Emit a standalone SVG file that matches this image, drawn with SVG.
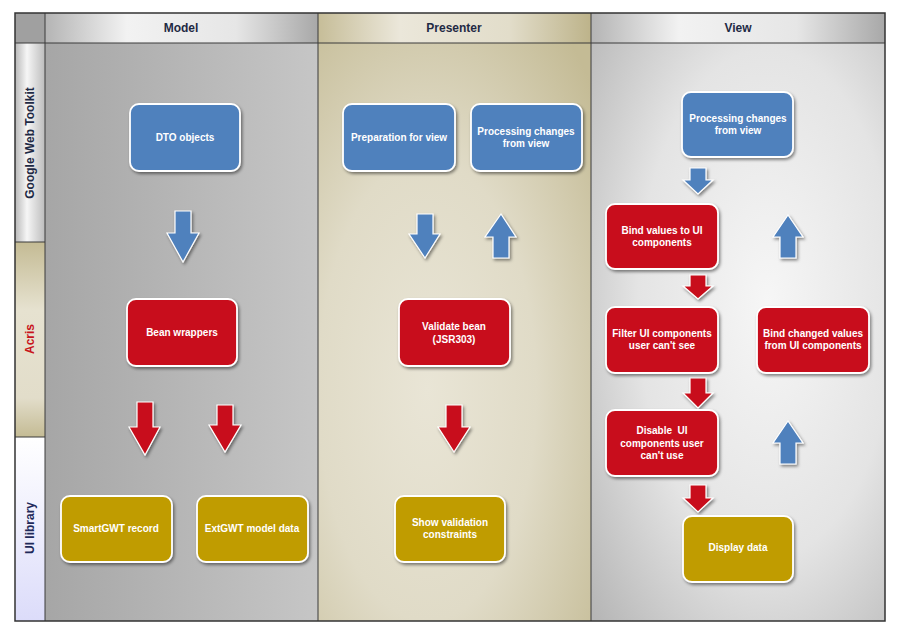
<svg xmlns="http://www.w3.org/2000/svg" width="900" height="636" viewBox="0 0 900 636">
<defs>
<style>
.hdr{font-family:"Liberation Sans",Arial,sans-serif;font-weight:bold;font-size:12px;fill:#1f2a44;text-anchor:middle}
.lbl{font-family:"Liberation Sans",Arial,sans-serif;font-weight:bold;font-size:12px;text-anchor:middle}
.nt{font-family:"Liberation Sans",Arial,sans-serif;font-weight:bold;font-size:10px;fill:#ffffff;text-anchor:middle}
.box{stroke:#ffffff;stroke-width:1.8;filter:url(#sh)}
.blue{fill:#4f81bd}
.red{fill:#c8101a}
.gold{fill:#c09c00}
.arr{stroke:#ffffff;stroke-width:1.2;filter:url(#sh)}
.grid{fill:none;stroke:#3a3a3a;stroke-width:1}
</style>
<filter id="sh" x="-20%" y="-20%" width="150%" height="150%">
<feDropShadow dx="1.5" dy="2" stdDeviation="1.4" flood-color="#000" flood-opacity="0.45"/>
</filter>
<linearGradient id="gModel" x1="0" y1="0" x2="1" y2="0">
<stop offset="0" stop-color="#a6a6a6"/><stop offset="1" stop-color="#c6c6c6"/>
</linearGradient>
<radialGradient id="gPres" cx="0.4" cy="0.6" r="0.8">
<stop offset="0" stop-color="#e9e5d6"/><stop offset="0.5" stop-color="#e0dbc7"/><stop offset="1" stop-color="#c4bb95"/>
</radialGradient>
<radialGradient id="gView" cx="0.6" cy="0.45" r="0.8">
<stop offset="0" stop-color="#f6f6f6"/><stop offset="0.55" stop-color="#e4e4e4"/><stop offset="1" stop-color="#b6b6b6"/>
</radialGradient>
<linearGradient id="hGray" x1="0" y1="0" x2="1" y2="0">
<stop offset="0" stop-color="#b4b4b4"/><stop offset="0.3" stop-color="#f2f2f2"/><stop offset="0.7" stop-color="#e6e6e6"/><stop offset="1" stop-color="#a8a8a8"/>
</linearGradient>
<linearGradient id="hBeige" x1="0" y1="0" x2="1" y2="0">
<stop offset="0" stop-color="#c6bd98"/><stop offset="0.3" stop-color="#ebe7da"/><stop offset="0.7" stop-color="#e2ddca"/><stop offset="1" stop-color="#bdb38a"/>
</linearGradient>
<linearGradient id="vGray" x1="0" y1="0" x2="1" y2="0">
<stop offset="0" stop-color="#b8b8b8"/><stop offset="0.4" stop-color="#f6f6f6"/><stop offset="1" stop-color="#bcbcbc"/>
</linearGradient>
<linearGradient id="vBeige" x1="0" y1="0" x2="0" y2="1">
<stop offset="0" stop-color="#c4bb94"/><stop offset="0.35" stop-color="#e6e2d0"/><stop offset="0.8" stop-color="#e2ddca"/><stop offset="1" stop-color="#c4bb94"/>
</linearGradient>
<linearGradient id="vLav" x1="0" y1="0" x2="0" y2="1">
<stop offset="0" stop-color="#ffffff"/><stop offset="1" stop-color="#dcdcfa"/>
</linearGradient>
</defs>

<g id="background">
<rect x="45" y="43" width="273" height="578" fill="url(#gModel)"/>
<rect x="318" y="43" width="273" height="578" fill="url(#gPres)"/>
<rect x="591" y="43" width="294" height="578" fill="url(#gView)"/>
<rect x="15" y="13" width="30" height="30" fill="#a0a0a0"/>
<rect x="45" y="13" width="273" height="30" fill="url(#hGray)"/>
<rect x="318" y="13" width="273" height="30" fill="url(#hBeige)"/>
<rect x="591" y="13" width="294" height="30" fill="url(#hGray)"/>
<rect x="15" y="43" width="30" height="199" fill="url(#vGray)"/>
<rect x="15" y="242" width="30" height="195" fill="url(#vBeige)"/>
<rect x="15" y="437" width="30" height="184" fill="url(#vLav)"/>
<path class="grid" d="M15 43H885M45 13V621M318 13V621M591 13V621M15 242H45M15 437H45"/>
<rect x="15" y="13" width="870" height="608" fill="none" stroke="#333" stroke-width="1.5"/>
</g>

<g id="headers">
<text class="hdr" x="181" y="32">Model</text>
<text class="hdr" x="454" y="32">Presenter</text>
<text class="hdr" x="738" y="32">View</text>
<text class="lbl" fill="#1f2a44" transform="translate(34 143) rotate(-90)">Google Web Toolkit</text>
<text class="lbl" fill="#c8141c" transform="translate(34 339) rotate(-90)">Acris</text>
<text class="lbl" fill="#1f2a5a" transform="translate(34 528) rotate(-90)">UI library</text>
</g>

<g id="connectors">
<path class="arr blue" d="M175 211H191V233H199L183 262L167 233H175Z"/>
<path class="arr blue" d="M417 214H433V234H440L425 258L409 234H417Z"/>
<path class="arr blue" d="M493 258H509V237H516L501 214L485 237H493Z"/>
<path class="arr red" d="M137 402H153V427H160L145 455L129 427H137Z"/>
<path class="arr red" d="M217 405H233V425H241L225 452L209 425H217Z"/>
<path class="arr red" d="M446 405H462V427H470L454 452L438 427H446Z"/>
<path class="arr blue" d="M690 168H706V180H713L698 194L683 180H690Z"/>
<path class="arr blue" d="M780 258H796V237H803L788 215L773 237H780Z"/>
<path class="arr red" d="M690 275H706V286H713L698 299L683 286H690Z"/>
<path class="arr red" d="M690 378H706V393H713L698 408L683 393H690Z"/>
<path class="arr blue" d="M780 464H796V443H803L788 421L773 443H780Z"/>
<path class="arr red" d="M690 485H706V498H713L698 512L683 498H690Z"/>
</g>

<g id="dto">
<rect class="box blue" x="130" y="104" width="110" height="67" rx="9"/>
<text class="nt" x="185" y="141">DTO objects</text>
</g>
<g id="bean-wrappers">
<rect class="box red" x="127" y="299" width="110" height="67" rx="9"/>
<text class="nt" x="182" y="336">Bean wrappers</text>
</g>
<g id="smartgwt">
<rect class="box gold" x="61" y="496" width="111" height="66" rx="9"/>
<text class="nt" x="116" y="532">SmartGWT record</text>
</g>
<g id="extgwt">
<rect class="box gold" x="197" y="496" width="111" height="66" rx="9"/>
<text class="nt" x="252" y="532">ExtGWT model data</text>
</g>
<g id="prep-view">
<rect class="box blue" x="343" y="104" width="112" height="67" rx="9"/>
<text class="nt" x="399" y="141">Preparation for view</text>
</g>
<g id="proc-changes-p">
<rect class="box blue" x="471" y="104" width="111" height="67" rx="9"/>
<text class="nt" x="526" y="135">Processing changes</text>
<text class="nt" x="526" y="147">from view</text>
</g>
<g id="validate">
<rect class="box red" x="399" y="299" width="111" height="67" rx="9"/>
<text class="nt" x="454" y="330">Validate bean</text>
<text class="nt" x="454" y="343">(JSR303)</text>
</g>
<g id="show-validation">
<rect class="box gold" x="395" y="496" width="110" height="66" rx="9"/>
<text class="nt" x="450" y="526">Show validation</text>
<text class="nt" x="450" y="538">constraints</text>
</g>
<g id="proc-changes-v">
<rect class="box blue" x="682" y="92" width="111" height="65" rx="9"/>
<text class="nt" x="738" y="122">Processing changes</text>
<text class="nt" x="738" y="134">from view</text>
</g>
<g id="bind-values">
<rect class="box red" x="606" y="204" width="112" height="65" rx="9"/>
<text class="nt" x="662" y="234">Bind values to UI</text>
<text class="nt" x="662" y="246">components</text>
</g>
<g id="filter">
<rect class="box red" x="606" y="307" width="112" height="66" rx="9"/>
<text class="nt" x="662" y="337">Filter UI components</text>
<text class="nt" x="662" y="349">user can't see</text>
</g>
<g id="bind-changed">
<rect class="box red" x="757" y="307" width="112" height="66" rx="9"/>
<text class="nt" x="813" y="337">Bind changed values</text>
<text class="nt" x="813" y="349">from UI components</text>
</g>
<g id="disable">
<rect class="box red" x="606" y="410" width="112" height="66" rx="9"/>
<text class="nt" x="662" y="434" xml:space="preserve">Disable  UI</text>
<text class="nt" x="662" y="447">components user</text>
<text class="nt" x="662" y="459">can't use</text>
</g>
<g id="display">
<rect class="box gold" x="683" y="516" width="110" height="66" rx="9"/>
<text class="nt" x="738" y="551">Display data</text>
</g>
</svg>
